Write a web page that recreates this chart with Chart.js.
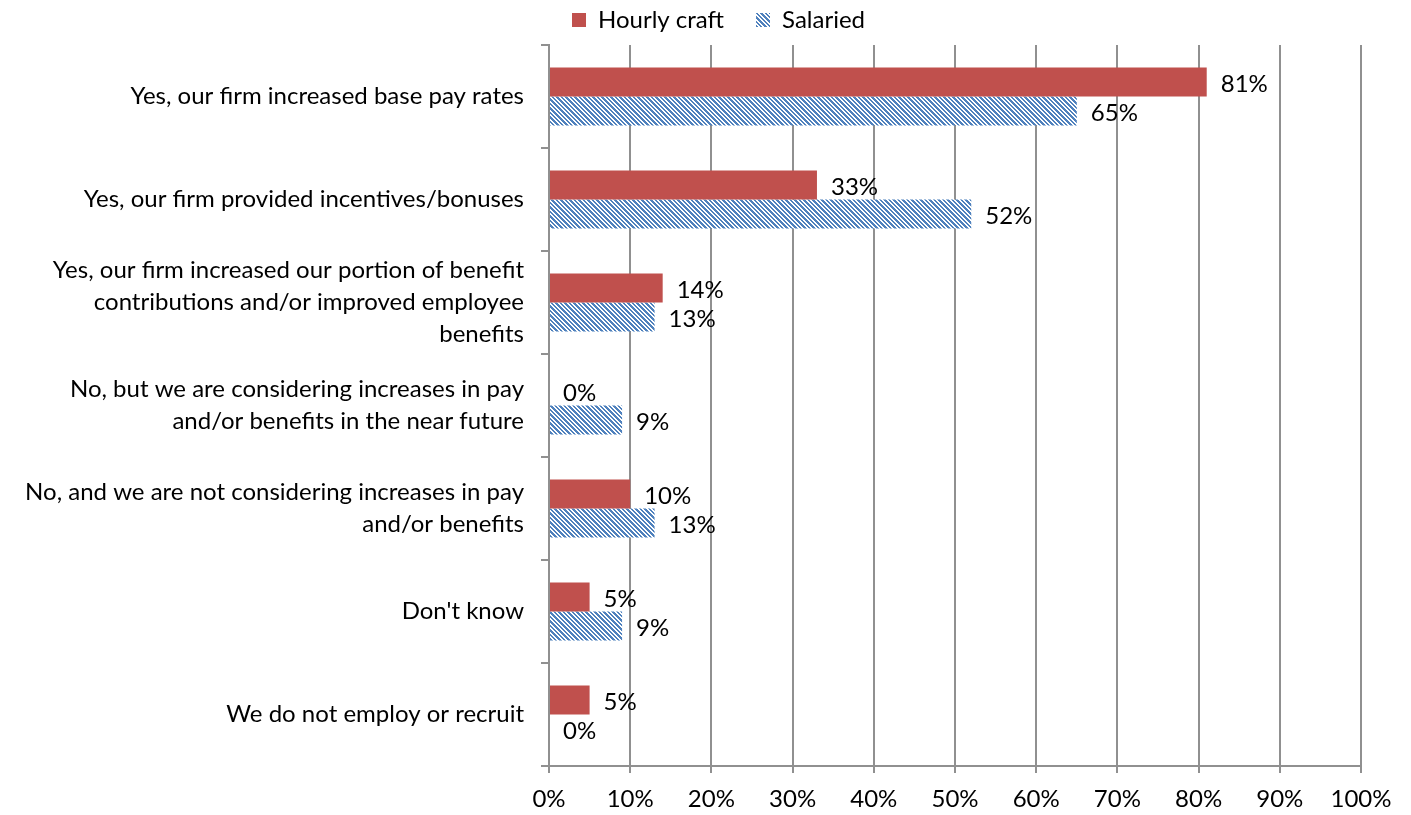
<!DOCTYPE html>
<html lang="en">
<head>
    <meta charset="UTF-8">
    <title>Pay and benefits</title>
    <script src="https://cdn.jsdelivr.net/npm/chart.js"></script>
    <style>
        html, body { margin: 0; padding: 0; background: #fff; }
        #box { width: 1411px; height: 815px; }
    </style>
</head>
<body>
    <div id="box">
        <canvas id="myChart"></canvas>
    </div>

<script>
// dados do grafico
const categorias = [
    'Yes, our firm increased base pay rates',
    'Yes, our firm provided incentives/bonuses',
    ['Yes, our firm increased our portion of benefit', 'contributions and/or improved employee', 'benefits'],
    ['No, but we are considering increases in pay', 'and/or benefits in the near future'],
    ['No, and we are not considering increases in pay', 'and/or benefits'],
    "Don't know",
    'We do not employ or recruit'
];
const horistas = [81, 33, 14, 0, 10, 5, 5];
const assalariados = [65, 52, 13, 9, 13, 9, 0];
const nomesSeries = ['Hourly craft', 'Salaried'];

const vermelho = '#C0504D';
const azul = '#4F81BD';
const cinza = '#909090';
const fonte = 'Lato, "Liberation Sans", sans-serif';

// hachura diagonal para a serie Salaried
function criarHachura() {
    let c = document.createElement('canvas');
    c.width = 9;
    c.height = 9;
    let ctx = c.getContext('2d');
    ctx.fillStyle = '#fff';
    ctx.fillRect(0, 0, 9, 9);
    ctx.fillStyle = azul;
    for (let y = 0; y < 9; y++) {
        for (let x = 0; x < 9; x++) {
            let k = ((x - y) % 9 + 9) % 9;
            if (k <= 2 || k == 5 || k == 6) ctx.fillRect(x, y, 1, 1);
        }
    }
    return ctx.createPattern(c, 'repeat');
}

// rotulos de valor ao lado das barras
const rotulos = {
    id: 'rotulos',
    afterDatasetsDraw(chart) {
        let ctx = chart.ctx;
        ctx.save();
        ctx.font = '24px ' + fonte;
        ctx.fillStyle = '#000';
        ctx.textAlign = 'left';
        ctx.textBaseline = 'middle';
        chart.data.datasets.forEach((ds, i) => {
            chart.getDatasetMeta(i).data.forEach((bar, j) => {
                ctx.fillText(ds.data[j] + '%', bar.x + 14, bar.y + 2);
            });
        });
        ctx.restore();
    }
};

// legenda: espaco maior entre os itens sem aumentar a altura
const ALTURA_LEGENDA = 43;
const ajustarLegenda = {
    id: 'ajustarLegenda',
    beforeLayout(chart) {
        let lg = chart.legend;
        if (lg && !lg._ajustado) {
            let fitOriginal = lg.fit.bind(lg);
            lg.fit = function () {
                fitOriginal();
                this.height = ALTURA_LEGENDA;
            };
            lg._ajustado = true;
        }
    },
    afterLayout(chart) {
        let lg = chart.legend;
        let desloc = 38;
        lg.left += desloc;
        lg.right += desloc;
        lg.top = 20 - 12 - lg.options.labels.padding;
        lg.bottom = 44;
    }
};

const config = {
    type: 'bar',
    data: {
        labels: categorias,
        datasets: [
            {
                label: nomesSeries[0],
                data: horistas,
                backgroundColor: vermelho,
                borderWidth: 0
            },
            {
                label: nomesSeries[1],
                data: assalariados,
                backgroundColor: criarHachura(),
                borderWidth: 0
            }
        ]
    },
    options: {
        indexAxis: 'y',
        responsive: true,
        maintainAspectRatio: false,
        animation: false,
        categoryPercentage: 0.565,
        barPercentage: 1.0,
        layout: { padding: { top: 2, right: 50, left: 0, bottom: 0 } },
        plugins: {
            legend: {
                position: 'top',
                labels: {
                    font: { family: fonte, size: 24 },
                    color: '#000',
                    boxWidth: 14,
                    boxHeight: 14,
                    padding: 32
                }
            },
            tooltip: { enabled: false }
        },
        scales: {
            x: {
                min: 0,
                max: 100,
                ticks: {
                    stepSize: 10,
                    padding: 12,
                    color: '#000',
                    font: { family: fonte, size: 24 },
                    callback: v => v + '%'
                },
                grid: { color: cinza, lineWidth: 2, tickLength: 7, drawOnChartArea: true },
                border: { color: cinza, width: 2 },
                afterFit(scale) { scale.height = 49; }
            },
            y: {
                ticks: {
                    padding: 17,
                    color: '#000',
                    font: { family: fonte, size: 24, lineHeight: 1.33 },
                    autoSkip: false
                },
                grid: { color: cinza, lineWidth: 2, tickLength: 8, drawOnChartArea: false, offset: true },
                border: { color: cinza, width: 2 },
                afterFit(scale) { scale.width = 549; }
            }
        }
    },
    plugins: [rotulos, ajustarLegenda]
};

let myChart = new Chart(document.getElementById('myChart'), config);
</script>
</body>
</html>
